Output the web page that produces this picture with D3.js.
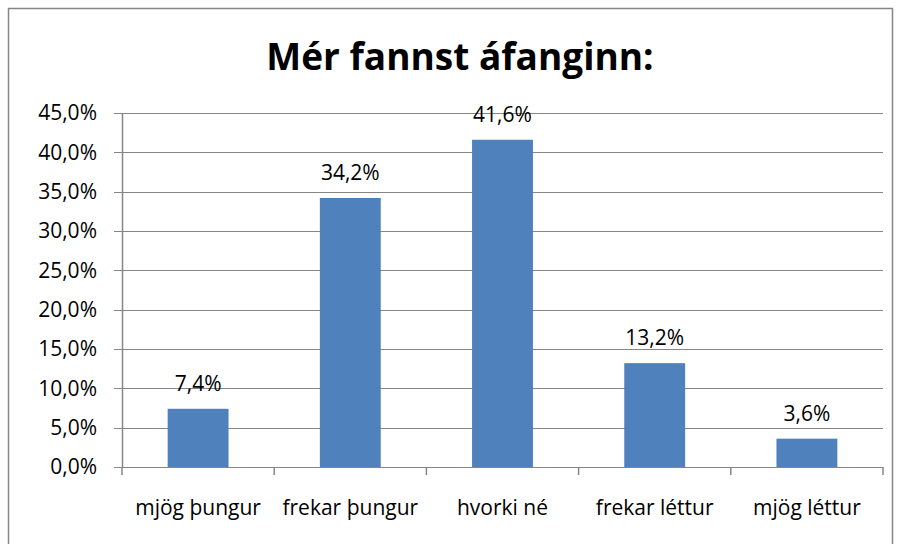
<!DOCTYPE html>
<html>
<head>
<meta charset="utf-8">
<script src="https://cdn.jsdelivr.net/npm/d3@7"></script>
<style>
  body { margin: 0; background: #fff; }
  svg { display: block; font-family: "Open Sans", "Liberation Sans", sans-serif; }
</style>
</head>
<body>
<svg id="chart" width="900" height="544"></svg>
<script>
var categories = ["mjög þungur", "frekar þungur", "hvorki né", "frekar léttur", "mjög léttur"];
var values = [7.4, 34.2, 41.6, 13.2, 3.6];
var yTicks = [0, 5, 10, 15, 20, 25, 30, 35, 40, 45];
var title = "Mér fannst áfanginn:";

function fmt(v) {
    return v.toFixed(1).replace(".", ",") + "%";
}

function createChart() {
    var svg = d3.select("#chart");
    var margin = { left: 122, right: 17, top: 113, bottom: 77 };
    var width = 900 - margin.left - margin.right,
        height = 544 - margin.top - margin.bottom;

    // outer frame
    svg.append("rect")
        .attr("x", 8.5).attr("y", 8.5)
        .attr("width", 884).attr("height", 545)
        .attr("fill", "#fff")
        .attr("stroke", "#868686")
        .attr("stroke-width", 1.5);

    svg.append("text")
        .attr("x", 460).attr("y", 70)
        .attr("text-anchor", "middle")
        .attr("font-size", 37)
        .attr("font-weight", "bold")
        .attr("fill", "#000")
        .text(title);

    var g = svg.append("g")
        .attr("transform", "translate(" + margin.left + "," + margin.top + ")");

    var x = d3.scaleBand().domain(categories).range([0, width]).paddingInner(0.6).paddingOuter(0.3);
    var xb = d3.scaleBand().domain(categories).range([0, width]);
    var y = d3.scaleLinear().domain([0, 45]).range([height, 0]);

    // gridlines
    g.selectAll("line.grid")
        .data(yTicks)
        .enter().append("line")
        .attr("class", "grid")
        .attr("x1", -8).attr("x2", width)
        .attr("y1", function(d) { return Math.round(y(d)) + 0.5; })
        .attr("y2", function(d) { return Math.round(y(d)) + 0.5; })
        .attr("stroke", "#868686")
        .attr("stroke-width", 1.2);

    g.selectAll("text.ytick")
        .data(yTicks)
        .enter().append("text")
        .attr("class", "ytick")
        .attr("x", -25)
        .attr("y", function(d) { return y(d); })
        .attr("dy", "0.35em")
        .attr("text-anchor", "end")
        .attr("font-size", 21)
        .attr("fill", "#000")
        .text(fmt);

    // y axis line
    g.append("line")
        .attr("x1", 0.5).attr("x2", 0.5)
        .attr("y1", 0).attr("y2", height)
        .attr("stroke", "#868686").attr("stroke-width", 1.5);

    // x axis ticks
    var xt = categories.map(function(c) { return xb(c); }).concat([width]);
    g.selectAll("line.xtick")
        .data(xt)
        .enter().append("line")
        .attr("class", "xtick")
        .attr("x1", function(d) { return d; })
        .attr("x2", function(d) { return d; })
        .attr("y1", height).attr("y2", height + 8)
        .attr("stroke", "#868686").attr("stroke-width", 1.5);

    g.selectAll("rect.bar")
        .data(values)
        .enter().append("rect")
        .attr("class", "bar")
        .attr("x", function(d, i) { return x(categories[i]); })
        .attr("y", function(d) { return y(d); })
        .attr("width", x.bandwidth())
        .attr("height", function(d) { return height - y(d); })
        .attr("fill", "#4F81BD");

    g.selectAll("text.val")
        .data(values)
        .enter().append("text")
        .attr("class", "val")
        .attr("x", function(d, i) { return xb(categories[i]) + xb.bandwidth() / 2; })
        .attr("y", function(d) { return y(d) - 18; })
        .attr("text-anchor", "middle")
        .attr("font-size", 21)
        .attr("fill", "#000")
        .text(fmt);

    g.selectAll("text.cat")
        .data(categories)
        .enter().append("text")
        .attr("class", "cat")
        .attr("x", function(d) { return xb(d) + xb.bandwidth() / 2; })
        .attr("y", height + 48)
        .attr("text-anchor", "middle")
        .attr("font-size", 21)
        .attr("fill", "#000")
        .text(function(d) { return d; });
}

createChart();
</script>
</body>
</html>
